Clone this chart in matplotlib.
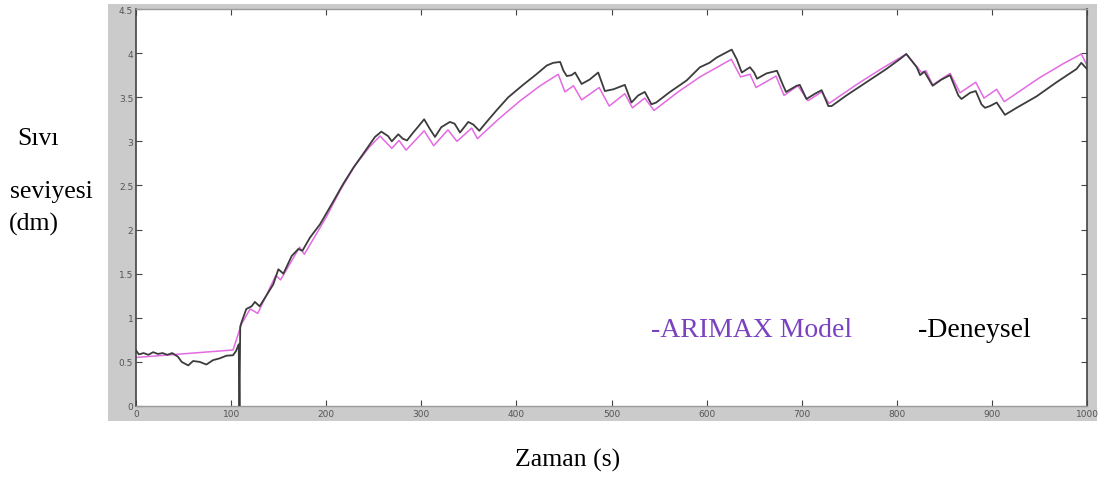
import matplotlib
matplotlib.use("Agg")
import matplotlib.pyplot as plt
from matplotlib.patches import Rectangle

# Deneysel (siyah) veri: zaman (s), seviye (dm)
t_den = [0, 3, 8, 13, 18, 23, 28, 33, 38, 44, 48, 55, 60, 67, 74, 81, 88, 95,
         102, 105, 108, 108.8, 109.6, 111, 116, 121.6, 125, 130, 137, 144.4,
         149.7, 155, 163.7, 170.7, 175, 183, 193.5, 207.5, 218, 228.5, 239,
         251.3, 258, 265, 269, 275.8, 280.5, 285, 291.5, 297, 303, 309, 314.4,
         321, 330, 335, 340.7, 349.4, 354.7, 361, 368.7, 379, 391.5, 407, 421,
         432, 438.8, 446, 449.5, 453, 458, 461.7, 468.6, 477, 486, 493, 502,
         514, 521, 528, 535, 542, 547, 561.5, 579, 593, 603, 610.6, 626.4,
         631.7, 637, 645.6, 650, 653, 663, 674, 680.6, 683.5, 694.7, 698, 705,
         714, 721, 728, 731.5, 747, 768, 789, 803, 810, 821, 824.5, 829, 837.7,
         847, 856, 864.7, 868, 877, 883, 889, 892.7, 898, 905, 913.7, 926, 947,
         968, 989, 994, 1000]
v_den = [0.63, 0.585, 0.60, 0.58, 0.61, 0.59, 0.60, 0.58, 0.60, 0.56, 0.50,
         0.46, 0.51, 0.50, 0.47, 0.52, 0.54, 0.57, 0.575, 0.62, 0.70, 0.0,
         0.90, 0.95, 1.10, 1.13, 1.18, 1.13, 1.25, 1.38, 1.55, 1.50, 1.70,
         1.78, 1.76, 1.91, 2.06, 2.32, 2.52, 2.70, 2.86, 3.05, 3.11, 3.06,
         3.00, 3.08, 3.03, 3.01, 3.10, 3.17, 3.25, 3.14, 3.05, 3.16, 3.22,
         3.20, 3.10, 3.22, 3.19, 3.12, 3.22, 3.35, 3.50, 3.64, 3.76, 3.86,
         3.89, 3.90, 3.80, 3.74, 3.75, 3.78, 3.65, 3.70, 3.78, 3.57, 3.59,
         3.64, 3.44, 3.52, 3.56, 3.42, 3.44, 3.56, 3.69, 3.84, 3.89, 3.95,
         4.04, 3.93, 3.78, 3.84, 3.78, 3.71, 3.77, 3.80, 3.63, 3.56, 3.63,
         3.64, 3.48, 3.54, 3.58, 3.40, 3.40, 3.52, 3.67, 3.82, 3.93, 3.99,
         3.84, 3.75, 3.79, 3.63, 3.70, 3.75, 3.52, 3.48, 3.55, 3.57, 3.42,
         3.38, 3.40, 3.44, 3.30, 3.38, 3.51, 3.67, 3.82, 3.89, 3.82]

# ARIMAX model (pembe)
t_arx = [0, 102, 111, 120, 128, 147, 152, 172, 177, 200, 215, 230, 245,
         256.6, 269, 276.6, 284, 303, 313, 328, 337.5, 353, 359, 380, 393,
         404, 425, 444, 451, 460, 468.6, 487, 497.6, 514, 522, 535, 544.7,
         570, 593, 626, 635.8, 645.6, 652, 673, 681.4, 696, 706.6, 721, 728.7,
         760, 785, 810, 826, 830.7, 837.7, 856, 866.5, 883, 891.7, 905, 913,
         950, 975, 994, 1000]
v_arx = [0.55, 0.635, 0.93, 1.10, 1.05, 1.48, 1.43, 1.80, 1.72, 2.14, 2.45,
         2.72, 2.93, 3.06, 2.92, 3.01, 2.90, 3.12, 2.95, 3.13, 3.00, 3.15,
         3.03, 3.24, 3.36, 3.46, 3.63, 3.76, 3.56, 3.63, 3.47, 3.61, 3.40,
         3.54, 3.38, 3.49, 3.35, 3.56, 3.73, 3.93, 3.73, 3.76, 3.61, 3.74,
         3.52, 3.63, 3.46, 3.56, 3.43, 3.66, 3.83, 3.99, 3.78, 3.80, 3.64,
         3.77, 3.55, 3.67, 3.49, 3.59, 3.45, 3.72, 3.88, 3.99, 3.86]

W, H = 1099, 481
fig = plt.figure(figsize=(W / 100, H / 100), dpi=100)

# gri panel (MATLAB figure arka plani)
fig.patches.append(Rectangle((108 / W, 1 - 422 / H), (1097 - 108) / W, (422 - 5) / H,
                             transform=fig.transFigure, facecolor="#cbcbcb",
                             edgecolor="none", zorder=-1))

ax = fig.add_axes([136 / W, 1 - 407 / H, (1087 - 136) / W, (407 - 10) / H])
ax.set_zorder(1)
ax.set_facecolor("white")
ax.plot(t_arx, v_arx, color="#e36ae3", lw=1.1, zorder=2)
ax.plot(t_den, v_den, color="#3c3c3c", lw=1.3, zorder=3)

ax.set_xlim(0, 1000)
ax.set_ylim(0, 4.5)
ax.set_xticks(range(0, 1001, 100))
ax.set_yticks([0, 0.5, 1, 1.5, 2, 2.5, 3, 3.5, 4, 4.5])
ax.set_yticklabels(["0", "0.5", "1", "1.5", "2", "2.5", "3", "3.5", "4", "4.5"])
ax.tick_params(direction="in", length=4, width=0.8, colors="#444444",
               labelsize=6.5, labelcolor="#555555", top=True, right=True, pad=2)
for s in ["left", "right"]:
    ax.spines[s].set_color("#444444")
    ax.spines[s].set_linewidth(1.2)
for s in ["top", "bottom"]:
    ax.spines[s].set_color("#9a9a9a")
    ax.spines[s].set_linewidth(1.0)

serif = "Liberation Serif"
fig.text(17 / W, 1 - 145 / H, "Sıvı", family=serif, fontsize=18.5, va="baseline")
fig.text(10 / W, 1 - 198 / H, "seviyesi", family=serif, fontsize=18.5, va="baseline")
fig.text(9 / W, 1 - 231 / H, "(dm)", family=serif, fontsize=18.5, va="baseline")
fig.text(515 / W, 1 - 467 / H, "Zaman (s)", family=serif, fontsize=18.5, va="baseline")
fig.text(651 / W, 1 - 337 / H, "-ARIMAX Model", family=serif, fontsize=20,
         color="#7a42c0", va="baseline", zorder=5)
fig.text(918 / W, 1 - 337 / H, "-Deneysel", family=serif, fontsize=20,
         color="black", va="baseline", zorder=5)

fig.savefig("out.png", dpi=100)
